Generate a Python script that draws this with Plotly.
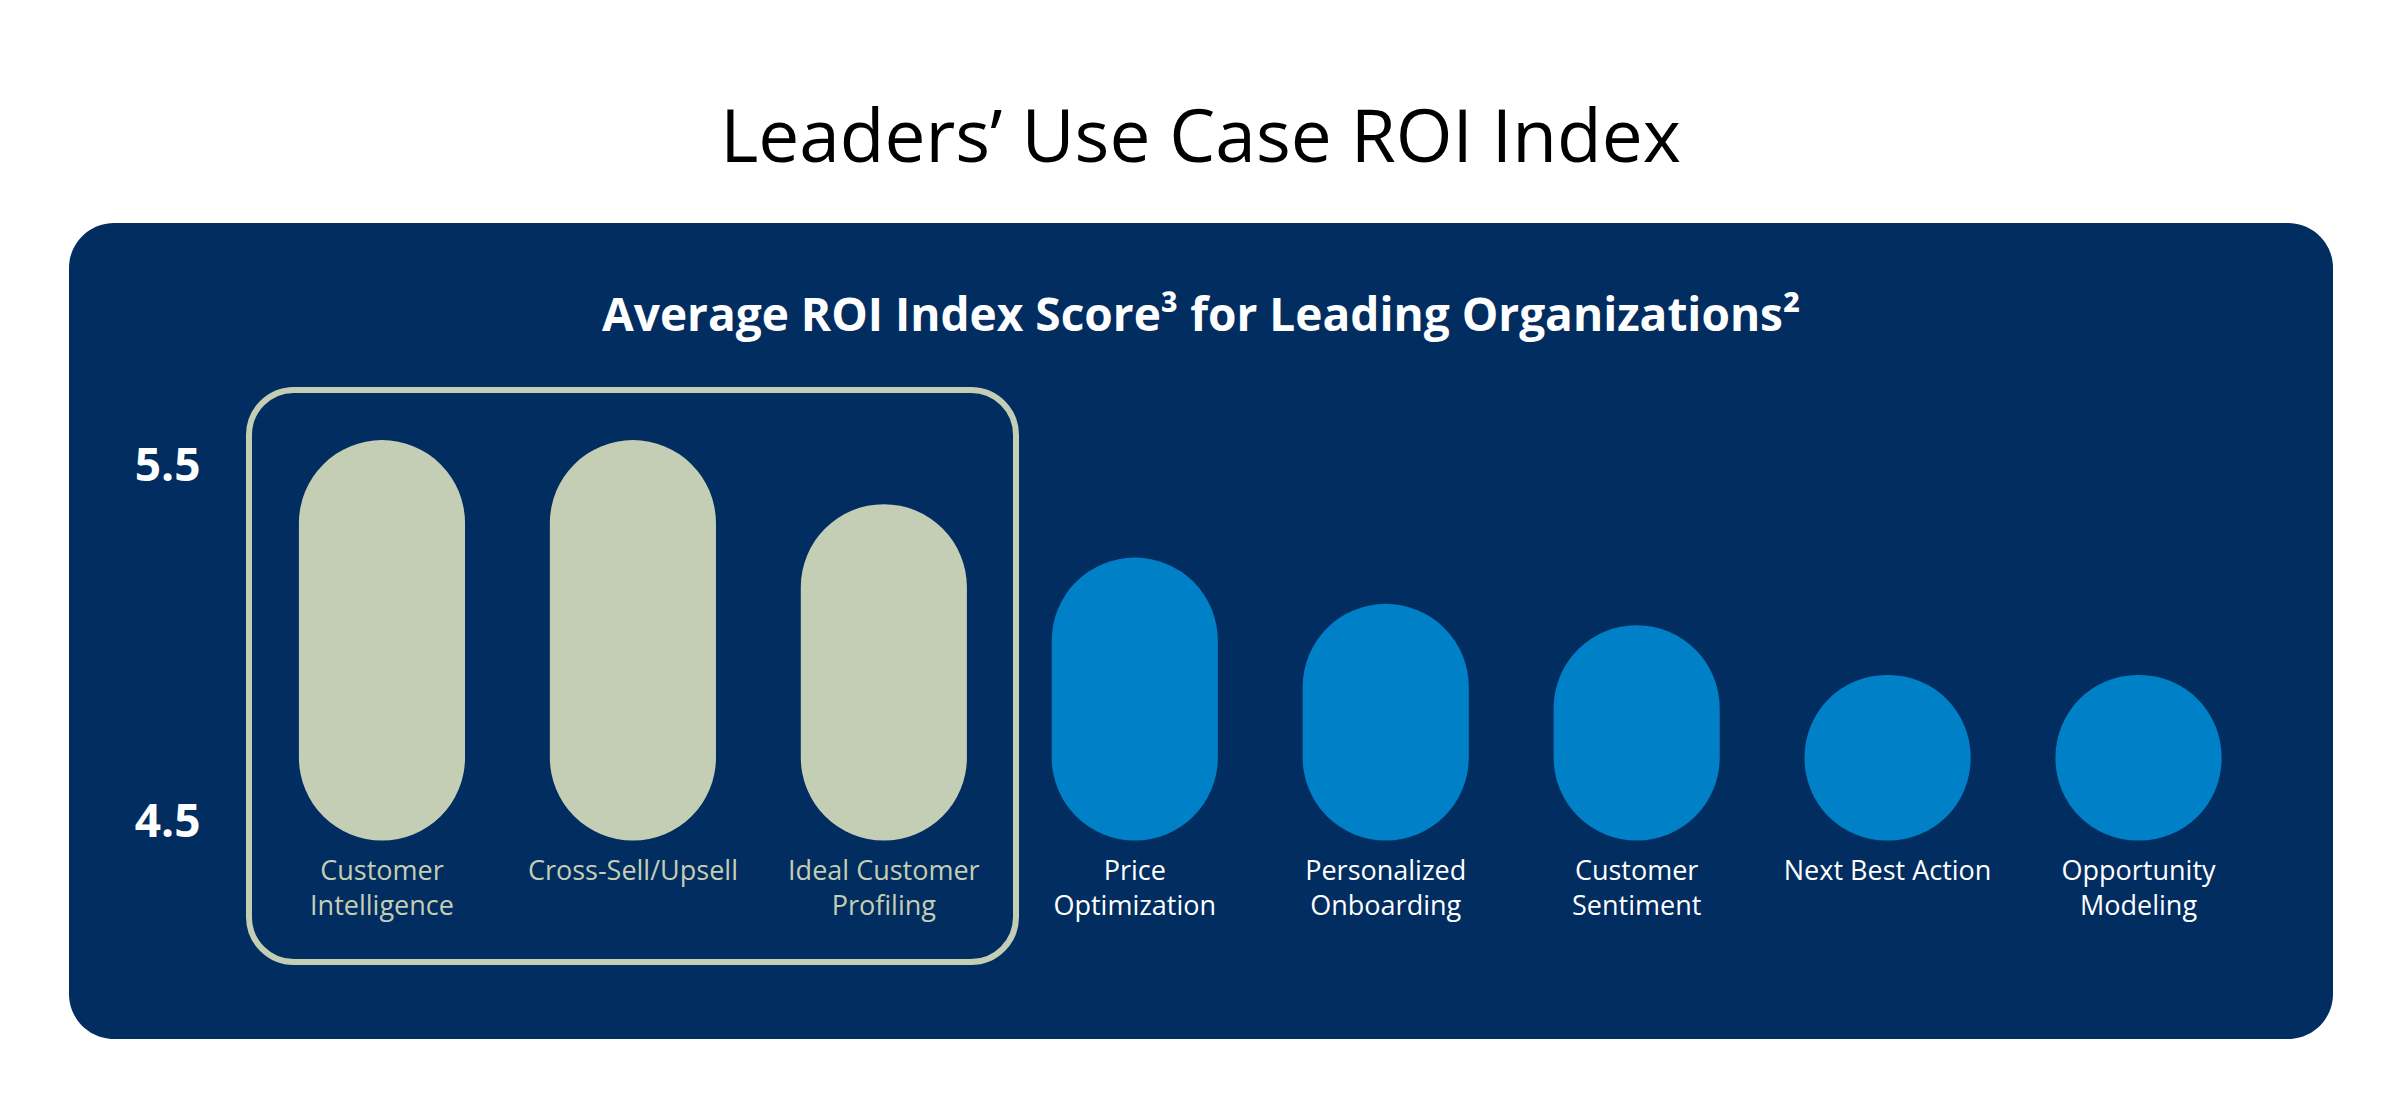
import plotly.graph_objects as go

# data
use_cases = ["Customer Intelligence", "Cross-Sell/Upsell", "Ideal Customer Profiling",
             "Price Optimization", "Personalized Onboarding", "Customer Sentiment",
             "Next Best Action", "Opportunity Modeling"]
label_lines = [["Customer", "Intelligence"], ["Cross-Sell/Upsell"], ["Ideal Customer", "Profiling"],
               ["Price", "Optimization"], ["Personalized", "Onboarding"], ["Customer", "Sentiment"],
               ["Next Best Action"], ["Opportunity", "Modeling"]]
roi_scores = [5.57, 5.57, 5.39, 5.24, 5.11, 5.05, 4.91, 4.91]
is_leader_pick = [True, True, True, False, False, False, False, False]
y_tick_vals = [4.5, 5.5]
y_tick_text = ["4.5", "5.5"]

NAVY = "#012D61"
SAGE = "#C4CEB4"
BLUE = "#0080C6"
FONT = "Open Sans"

W, H = 2401, 1101
pill_bottom = 4.445   # rounded bottom of every pill

bar_colors = [SAGE if h else BLUE for h in is_leader_pick]
label_colors = [SAGE if h else "white" for h in is_leader_pick]


def colored(lines, col):
    return "<br>".join("<span style='color:%s'>%s</span>" % (col, l) for l in lines)


tick_text = [colored(l, c) for l, c in zip(label_lines, label_colors)]


def rounded_rect(x0, y0, x1, y1, r):
    # pixel box -> paper path with rounded corners
    k = 0.5523 * r
    def p(x, y):
        return "%.5f,%.5f" % (x / W, 1 - y / H)
    return ("M" + p(x0 + r, y0) + " L" + p(x1 - r, y0) +
            " C" + p(x1 - r + k, y0) + " " + p(x1, y0 + r - k) + " " + p(x1, y0 + r) +
            " L" + p(x1, y1 - r) +
            " C" + p(x1, y1 - r + k) + " " + p(x1 - r + k, y1) + " " + p(x1 - r, y1) +
            " L" + p(x0 + r, y1) +
            " C" + p(x0 + r - k, y1) + " " + p(x0, y1 - r + k) + " " + p(x0, y1 - r) +
            " L" + p(x0, y0 + r) +
            " C" + p(x0, y0 + r - k) + " " + p(x0 + r - k, y0) + " " + p(x0 + r, y0) + " Z")


fig = go.Figure()

# bars with a base get both ends rounded -> pills
fig.add_trace(go.Bar(
    x=use_cases, y=[s - pill_bottom for s in roi_scores], base=pill_bottom,
    width=0.662, marker=dict(color=bar_colors, cornerradius="50%", line=dict(width=0)),
    hoverinfo="skip", showlegend=False))

fig.update_layout(
    width=W, height=H,
    margin=dict(l=0, r=0, t=0, b=0),
    paper_bgcolor="white", plot_bgcolor="rgba(0,0,0,0)",
    title=dict(text="Leaders’ Use Case ROI Index", x=0.5, xanchor="center",
               y=1 - 136 / H, yanchor="middle", yref="container",
               font=dict(family=FONT, size=73, color="black")),
    xaxis=dict(domain=[256.5 / W, 2264 / W], range=[-0.5, 7.5],
               tickvals=use_cases, ticktext=tick_text, ticks="",
               ticklabelstandoff=-5,
               showgrid=False, zeroline=False, showline=False,
               tickfont=dict(family=FONT, size=27, color="white")),
    yaxis=dict(domain=[1 - 856.6 / H, 1 - 393.8 / H], range=[4.40, 5.70],
               tickvals=y_tick_vals, ticktext=y_tick_text, ticks="",
               ticklabelstandoff=55,
               showgrid=False, zeroline=False, showline=False,
               tickfont=dict(family=FONT, size=46, color="white", weight="bold")),
    shapes=[
        dict(type="path", xref="paper", yref="paper", layer="below",
             path=rounded_rect(69, 223, 2333, 1039, 45),
             fillcolor=NAVY, line=dict(width=0)),
        dict(type="path", xref="paper", yref="paper", layer="below",
             path=rounded_rect(249, 390, 1016, 962, 45),
             fillcolor="rgba(0,0,0,0)", line=dict(color=SAGE, width=6)),
    ],
    annotations=[
        dict(text="Average ROI Index Score³ for Leading Organizations²",
             xref="paper", yref="paper", x=0.5, y=1 - 313 / H,
             xanchor="center", yanchor="middle", showarrow=False,
             font=dict(family=FONT, size=46, color="white", weight="bold")),
    ],
)

fig.write_html("out.html", config={"displayModeBar": False},
               post_script="document.body.style.margin='0';")
